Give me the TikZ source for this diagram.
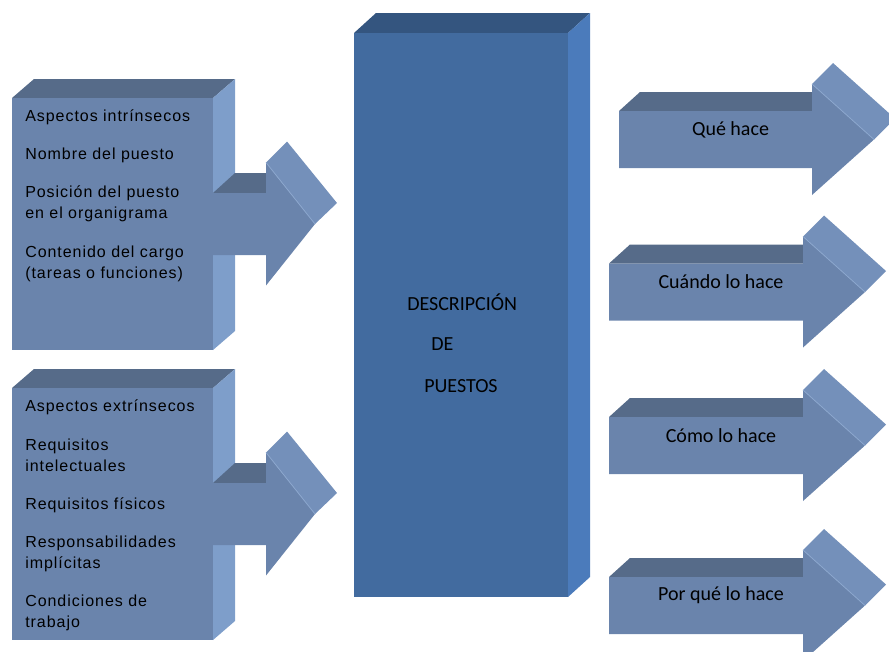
\documentclass[tikz,border=0pt]{standalone}
\usepackage{fontspec}
\setmainfont{Liberation Sans}
\newfontfamily\calibri{Carlito}
\newfontfamily\ariales[LetterSpace=6]{Liberation Sans}
\begin{document}
\begin{tikzpicture}[x=0.75pt,y=-0.75pt,
  lado/.style={font=\ariales\fontsize{12}{15.75}\selectfont,anchor=west,align=left,inner sep=0pt},
  rotulo/.style={font=\calibri\fontsize{15}{18}\selectfont,inner sep=0pt},
  pliegue/.style={draw=pliegue,line width=0.6pt}]
  \definecolor{frente}{HTML}{6A84AC}
  \definecolor{tapa}{HTML}{566B89}
  \definecolor{costado}{HTML}{7E9ECA}
  \definecolor{punta}{HTML}{7490BA}
  \definecolor{pliegue}{HTML}{8CA7CE}
  \definecolor{cfrente}{HTML}{426B9F}
  \definecolor{ctapa}{HTML}{34557F}
  \definecolor{ccostado}{HTML}{4B7BBB}
  \useasboundingbox (0,0) rectangle (889,651);
  % bloques de la izquierda
  \foreach \t in {98,388}{
    \pgfmathsetmacro{\c}{\t+126}
    \fill [tapa] (12,\t) -- ++(22,-19) -- ++(201,0) -- (213,\t) -- cycle;
    \fill [costado] (213,\t) -- ++(22,-19) -- ++(0,252) -- (213,\t+252) -- cycle;
    \fill [frente] (12,\t) rectangle (213,\t+252);
    \fill [tapa] (213,\c-31) -- ++(22,-20) -- (266,\c-51) -- (266,\c-31) -- cycle;
    \fill [punta] (266,\c-61.5) -- ++(21,-21) -- (337,\c-21) -- (315,\c) -- cycle;
    \fill [frente] (213,\c-31) -- (266,\c-31) -- (266,\c-61.5) -- (315,\c)
      -- (266,\c+61.5) -- (266,\c+31) -- (213,\c+31) -- cycle;
    \draw [pliegue] (266,\c-61.5) -- (315,\c);
  }
  \node [lado] (intr) at (25,117) {Aspectos intrínsecos};
  \node [lado] (nombre) at (25,155) {Nombre del puesto};
  \node [lado] (posicion) at (25,204) {Posición del puesto\\en el organigrama};
  \node [lado] (contenido) at (25,264) {Contenido del cargo\\(tareas o funciones)};
  \node [lado] (extr) at (25,407) {Aspectos extrínsecos};
  \node [lado] (intelect) at (25,455.5) {Requisitos\\intelectuales};
  \node [lado] (fisicos) at (25,505) {Requisitos físicos};
  \node [lado] (respons) at (25,553.5) {Responsabilidades\\implícitas};
  \node [lado] (condic) at (25,612.5) {Condiciones de\\trabajo};
  % bloque central
  \fill [ctapa] (354,33) -- ++(22,-20) -- ++(214,0) -- (568,33) -- cycle;
  \fill [ccostado] (568,33) -- ++(22,-20) -- ++(0,564) -- (568,597) -- cycle;
  \fill [cfrente] (354,33) rectangle (568,597);
  \node [rotulo,anchor=west] (desc) at (407,302) {DESCRIPCIÓN};
  \node [rotulo,anchor=west] (de) at (431,344) {DE};
  \node [rotulo,anchor=west] (puestos) at (424,386) {PUESTOS};
  % flechas de la derecha
  \foreach \L/\R/\c/\txt/\nombre in {619/812/139.5/Qué hace/que,
      609/803/292/Cuándo lo hace/cuando, 609/803/445.5/Cómo lo hace/como,
      609/803/605.5/Por qué lo hace/porque}{
    \fill [tapa] (\L,\c-28.5) -- ++(21,-19) -- (\R,\c-47.5) -- (\R,\c-28.5) -- cycle;
    \fill [punta] (\R,\c-55.5) -- ++(21,-21) -- (\R+83,\c-21) -- (\R+62,\c) -- cycle;
    \fill [frente] (\L,\c-28.5) -- (\R,\c-28.5) -- (\R,\c-55.5) -- (\R+62,\c)
      -- (\R,\c+55.5) -- (\R,\c+28.5) -- (\L,\c+28.5) -- cycle;
    \draw [pliegue] (\R,\c-55.5) -- (\R+62,\c);
    \node [rotulo] (\nombre) at ({(\L+\R)/2+15},\c-10) {\txt};
  }
\end{tikzpicture}
\end{document}
